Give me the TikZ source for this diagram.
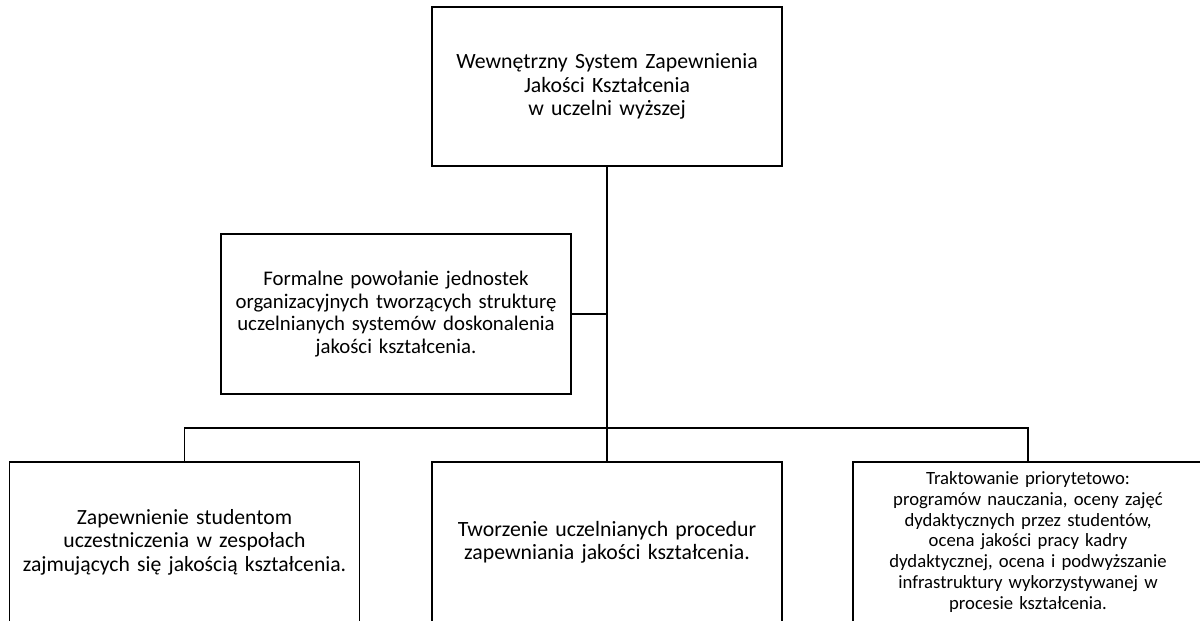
\documentclass[tikz,border=0pt]{standalone}
\usepackage{fontspec}
\setmainfont{Carlito}
\usetikzlibrary{positioning}

\tikzset{
  block/.style={draw, line width=1.1pt, minimum width=8.75cm, text width=8.7cm,
    align=center, inner sep=0.5pt},
  link/.style={line width=1.1pt}
}

\begin{document}
\begin{tikzpicture}
        % page frame, bottom boxes are cut at the lower edge
        \useasboundingbox (0,0) rectangle (30,15.5);
        \clip (0,0) rectangle (30,15.5);

        % top of the tree
        \node[block, minimum height=3.975cm, font=\fontsize{15.5}{16.6}\selectfont] (top) at (15.175,13.34)
          {Wewnętrzny System Zapewnienia\\Jakości Kształcenia\\w uczelni wyższej};

        % side box
        \node[block, minimum height=4cm, font=\fontsize{14.8}{16.2}\selectfont] (mid) at (9.9,7.65)
          {Formalne powołanie jednostek\\organizacyjnych tworzących strukturę\\uczelnianych systemów doskonalenia\\jakości kształcenia.};

        % bottom row
        \node[block, minimum height=4cm, font=\fontsize{15.4}{16.7}\selectfont] (left) at (4.6125,1.95)
          {Zapewnienie studentom\\uczestniczenia w zespołach\\zajmujących się jakością kształcenia.};
        \node[block, minimum height=4cm, font=\fontsize{15.5}{16.5}\selectfont] (centre) at (15.175,1.95)
          {Tworzenie uczelnianych procedur\\zapewniania jakości kształcenia.};
        \node[block, minimum height=4cm, font=\fontsize{13.3}{14.8}\selectfont] (right) at (25.7,1.95)
          {Traktowanie priorytetowo:\\programów nauczania, oceny zajęć\\dydaktycznych przez studentów,\\ocena jakości pracy kadry\\dydaktycznej, ocena i podwyższanie\\infrastruktury wykorzystywanej w\\procesie kształcenia.};

        % connectors
        \coordinate (bar) at (15.175,4.8);
        \draw[link] (top.south) -- (centre.north);
        \draw[link] (mid.east) -- (mid.east -| top.south);
        \draw[link] (left.north) |- (bar) -| (right.north);
\end{tikzpicture}
\end{document}
